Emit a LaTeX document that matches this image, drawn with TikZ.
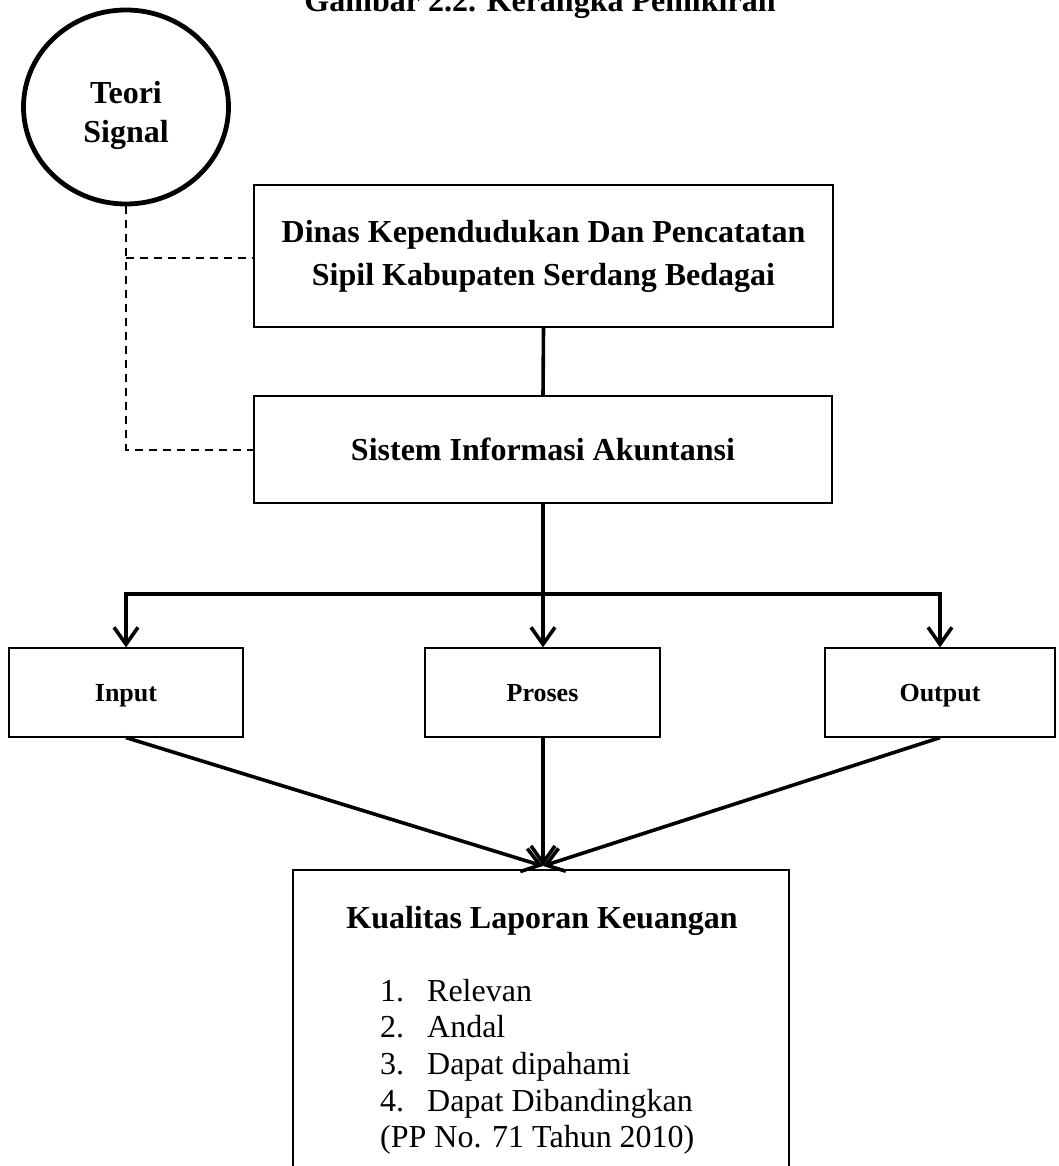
\documentclass[tikz,border=0pt]{standalone}
\usepackage{fontspec}
\setmainfont{Liberation Serif}
\usepackage{tikz}
\usetikzlibrary{arrows.meta,positioning,shapes.geometric}

\begin{document}
\begin{tikzpicture}[x=1pt,y=-1pt,
    kotak/.style={draw,line width=1.2pt,inner sep=0pt,align=center,
      font=\fontsize{32}{43}\selectfont\bfseries},
    kecil/.style={kotak,minimum height=89pt,text height=17pt,text depth=0pt,
      font=\fontsize{26}{30}\selectfont\bfseries},
    garis/.style={line width=3.6pt},
    panah/.style={garis,-{Straight Barb[length=17pt,width=24pt]}},
    putus/.style={line width=2pt,dash pattern=on 8pt off 6pt}]
  \useasboundingbox (0,0) rectangle (1059,1166);
  \node[font=\fontsize{32}{38}\selectfont\bfseries,anchor=base] (judul) at (540,12) {Gambar 2.2. Kerangka Pemikiran};
  % teori dan instansi
  \node[ellipse,draw,line width=4.8pt,minimum width=205pt,minimum height=194pt,inner sep=0pt] (teori) at (126,107) {};
  \node[align=center,font=\fontsize{32}{39}\selectfont\bfseries] (teorijudul) at (126,115) {Teori\\Signal};
  \node[kotak,minimum width=579pt,minimum height=142pt] (dinas) at (543.5,256) {Dinas Kependudukan Dan Pencatatan\\Sipil Kabupaten Serdang Bedagai};
  \node[kotak,minimum width=578pt,minimum height=107pt] (sia) at (543,449.5) {Sistem Informasi Akuntansi};
  \coordinate (simpul) at (124,258);
  \draw[putus] (teori.south) -- (teori.south |- sia.west) -- (sia.west);
  \draw[putus] (teori.south |- simpul) -- (simpul -| dinas.west);
  \draw[garis] (dinas.south) -- (sia.north);
  % input proses output
  \node[kecil,minimum width=234pt] (input) at (126,692.5) {Input};
  \node[kecil,minimum width=235pt] (proses) at (542.5,692.5) {Proses};
  \node[kecil,minimum width=230pt] (output) at (940,692.5) {Output};
  \coordinate (cabang) at (543,594);
  \draw[garis] (sia.south) -- (cabang);
  \draw[panah] (cabang) -| (input.north);
  \draw[panah] (cabang) -- (cabang |- proses.north);
  \draw[panah] (cabang) -| (output.north);
  % kualitas laporan
  \node[draw,line width=1.2pt,minimum width=496pt,minimum height=340pt,inner sep=0pt] (kualitas) at (541,1040) {};
  \coordinate (temu) at (543,866);
  \draw[panah] (input.south) -- (temu);
  \draw[panah] (proses.south -| temu) -- (temu);
  \draw[panah] (output.south) -- (temu);
  \node[font=\fontsize{32}{38}\selectfont\bfseries] (kualjudul) at (542,921) {Kualitas Laporan Keuangan};
  \node[anchor=base west,inner sep=0pt,font=\fontsize{32}{36.7}\selectfont] (daftar) at (380,1001)
    {\begin{tabular}[t]{@{}p{47pt}@{}l@{}}
      1. & Relevan\\
      2. & Andal\\
      3. & Dapat dipahami\\
      4. & Dapat Dibandingkan\\
      \multicolumn{2}{@{}l@{}}{(PP No. 71 Tahun 2010)}
    \end{tabular}};
\end{tikzpicture}
\end{document}
